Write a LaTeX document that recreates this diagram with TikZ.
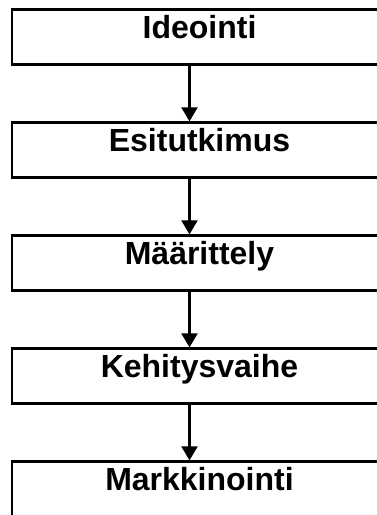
\documentclass[tikz,border=0pt]{standalone}
\usepackage{fontspec}
\setmainfont{Liberation Sans}
\usetikzlibrary{arrows.meta}

\tikzset{
  stagebox/.style={draw=black, line width=2.3pt, rectangle,
    minimum width=375pt, minimum height=55pt,
    inner xsep=4pt, inner ysep=4pt, text height=25pt, text depth=22pt,
    font=\bfseries\fontsize{32}{38}\selectfont},
  flowarrow/.style={line width=2.3pt, -{Triangle[length=14pt, width=16pt]}}
}

\begin{document}
\begin{tikzpicture}[x=1pt, y=1pt]
  \useasboundingbox (0,0) rectangle (377,-515);
  \clip (0,0) rectangle (377,-515);

  % process stages, top to bottom
  \node[stagebox] (ideointi)  at (199.5,-37)  {Ideointi};
  \node[stagebox] (esitutk)   at (199.5,-150) {Esitutkimus};
  \node[stagebox] (maaritt)   at (199.5,-263) {Määrittely};
  \node[stagebox] (kehitys)   at (199.5,-376) {Kehitysvaihe};
  \node[stagebox] (markkin)   at (199.5,-489) {Markkinointi};

  % connectors, slightly left of the box centres
  \draw[flowarrow] ([xshift=-10pt]ideointi.south) -- ([xshift=-10pt]esitutk.north);
  \draw[flowarrow] ([xshift=-10pt]esitutk.south)  -- ([xshift=-10pt]maaritt.north);
  \draw[flowarrow] ([xshift=-10pt]maaritt.south)  -- ([xshift=-10pt]kehitys.north);
  \draw[flowarrow] ([xshift=-10pt]kehitys.south)  -- ([xshift=-10pt]markkin.north);
\end{tikzpicture}
\end{document}
